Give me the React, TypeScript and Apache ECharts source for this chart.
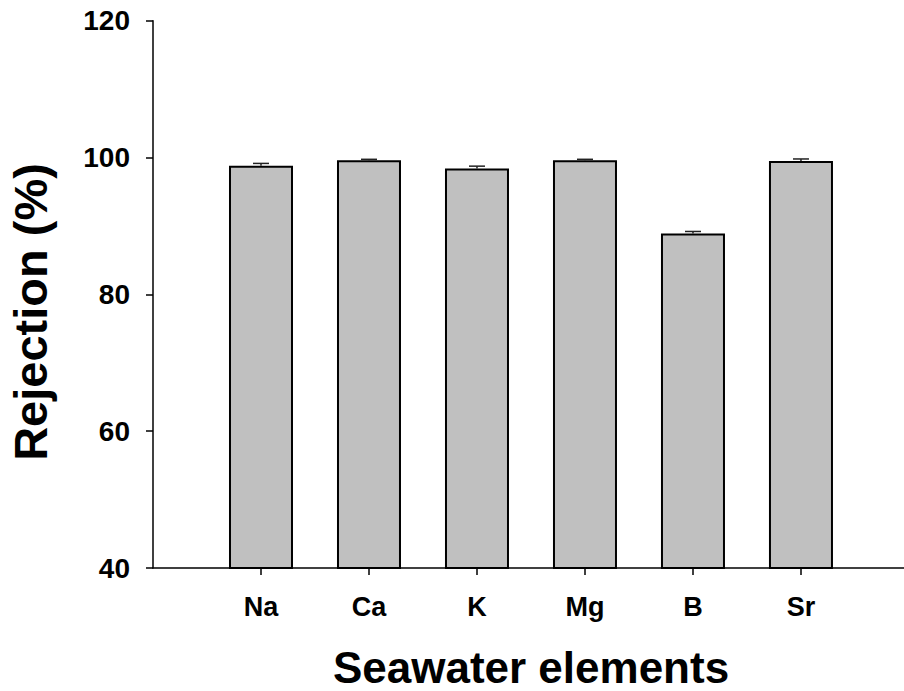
import React, { useEffect, useRef } from "react";
import * as echarts from "echarts";

const categories = ["Na", "Ca", "K", "Mg", "B", "Sr"];
const rejection = [98.8, 99.6, 98.4, 99.6, 88.9, 99.5];
const errors = [0.35, 0.15, 0.35, 0.15, 0.3, 0.3];
const positions = [1, 2, 3, 4, 5, 6];
const yMin = 40;
const yMax = 120;
const yStep = 20;

const FONT = "'Liberation Sans', Arial, sans-serif";

export default function App() {
  const ref = useRef<HTMLDivElement>(null);
  useEffect(() => {
    if (!ref.current) return;
    const chart = echarts.init(ref.current, undefined, { renderer: "svg" });
    const barData = positions.map((p, i) => [p, rejection[i]]);
    const errData = positions.map((p, i) => [p, rejection[i], errors[i]]);
    chart.setOption({
      animation: false,
      backgroundColor: "#ffffff",
      grid: { left: 153, right: 0, top: 20.8, bottom: 123, containLabel: false },
      xAxis: {
        type: "value",
        min: 0,
        max: 6.954,
        splitLine: { show: false },
        axisLine: { show: true, onZero: false, lineStyle: { color: "#000", width: 1.5 } },
        axisTick: {
          show: true,
          inside: false,
          length: 7,
          customValues: positions,
          lineStyle: { color: "#000", width: 1.5 },
        },
        axisLabel: {
          customValues: positions,
          formatter: (v: number) => categories[Math.round(v) - 1] ?? "",
          margin: 25,
          color: "#000",
          fontFamily: FONT,
          fontWeight: "bold",
          fontSize: 27,
        },
      },
      yAxis: {
        type: "value",
        min: yMin,
        max: yMax,
        interval: yStep,
        splitLine: { show: false },
        axisLine: { show: true, lineStyle: { color: "#000", width: 1.5 } },
        axisTick: { show: true, inside: false, length: 7, lineStyle: { color: "#000", width: 1.5 } },
        axisLabel: {
          margin: 23,
          color: "#000",
          fontFamily: FONT,
          fontWeight: "bold",
          fontSize: 28,
        },
      },
      graphic: [
        {
          type: "text",
          x: 531,
          y: 667,
          style: {
            text: "Seawater elements",
            font: `bold 44px ${FONT}`,
            fill: "#000",
            align: "center",
            verticalAlign: "middle",
          },
        },
        {
          type: "text",
          x: 30,
          y: 312,
          rotation: Math.PI / 2,
          style: {
            text: "Rejection (%)",
            font: `bold 47px ${FONT}`,
            fill: "#000",
            align: "center",
            verticalAlign: "middle",
          },
        },
      ],
      series: [
        {
          type: "bar",
          data: barData,
          barWidth: 64,
          itemStyle: { color: "#c0c0c0", borderColor: "#000", borderWidth: 2 },
        },
        {
          type: "custom",
          data: errData,
          z: 3,
          renderItem: (params: any, api: any) => {
            const x = api.value(0);
            const v = api.value(1);
            const e = api.value(2);
            const p0 = api.coord([x, v]);
            const p1 = api.coord([x, v + e]);
            const half = 8;
            return {
              type: "group",
              children: [
                {
                  type: "line",
                  shape: { x1: p0[0], y1: p0[1], x2: p1[0], y2: p1[1] },
                  style: { stroke: "#222", lineWidth: 1.5 },
                },
                {
                  type: "line",
                  shape: { x1: p1[0] - half, y1: p1[1], x2: p1[0] + half, y2: p1[1] },
                  style: { stroke: "#222", lineWidth: 1.5 },
                },
              ],
            };
          },
        },
      ],
    });
    return () => chart.dispose();
  }, []);
  return (
    <div
      ref={ref}
      style={{ position: "fixed", left: 0, top: 0, width: 904, height: 691, background: "#fff" }}
    />
  );
}
